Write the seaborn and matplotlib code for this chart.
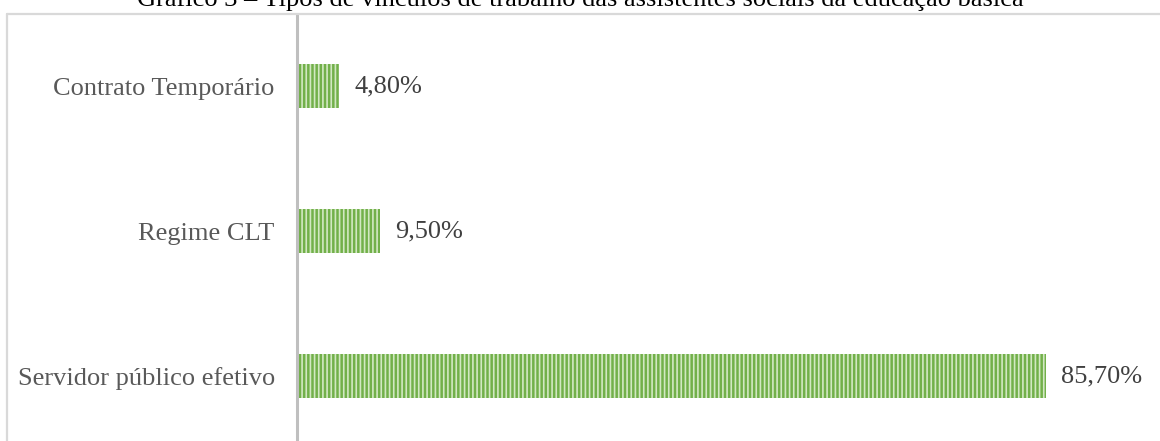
import pandas as pd
import matplotlib.pyplot as plt
from matplotlib.lines import Line2D
import seaborn as sns

sns.set_style("white")
plt.rcParams['font.family'] = ['Liberation Serif', 'DejaVu Serif']
plt.rcParams['hatch.linewidth'] = 1.2

categorias = ['Contrato Temporário', 'Regime CLT', 'Servidor público efetivo']
percentuais = [4.8, 9.5, 85.7]
rotulos = ['4,80%', '9,50%', '85,70%']
titulo = 'Gráfico 3 – Tipos de vínculos de trabalho das assistentes sociais da educação básica'

df = pd.DataFrame({'categoria': categorias, 'pct': percentuais})

W, H = 1160, 441
fig = plt.figure(figsize=(W / 100, H / 100), dpi=100)
ax = fig.add_axes([297 / W, -7.5 / H, (W - 297) / W, 435 / H])

sns.barplot(data=df, x='pct', y='categoria', orient='h', color='#72b04a',
            width=0.3, saturation=1, ax=ax)

# listras verticais claras sobre o verde (a cor da hachura vem da borda)
for p in ax.patches:
    p.set_hatch('||||')
    p.set_edgecolor('#d2e8c3')
    p.set_linewidth(0)

ax.bar_label(ax.containers[0], labels=rotulos, padding=11, fontsize=19, color='#404040')

ax.set_xlim(0, (W - 297) / 8.74)
ax.set_ylim(2.5, -0.5)
ax.set_xlabel('')
ax.set_ylabel('')
ax.set_xticks([])
ax.tick_params(axis='y', length=0, pad=16, labelsize=19, labelcolor='#595959')
for s in ['top', 'right', 'bottom']:
    ax.spines[s].set_visible(False)
ax.spines['left'].set_color('#bfbfbf')
ax.spines['left'].set_linewidth(2.2)

# moldura do gráfico (só topo e esquerda aparecem no recorte)
moldura = dict(transform=fig.transFigure, color='#d9d9d9', linewidth=1.6)
fig.add_artist(Line2D([7 / W, 1.0], [1 - 14 / H, 1 - 14 / H], **moldura))
fig.add_artist(Line2D([7 / W, 7 / W], [0, 1 - 14 / H], **moldura))

fig.text(0.5, 1 - 6 / H, titulo, ha='center', va='baseline', fontsize=19, color='black')

fig.savefig('out.png', dpi=100)
